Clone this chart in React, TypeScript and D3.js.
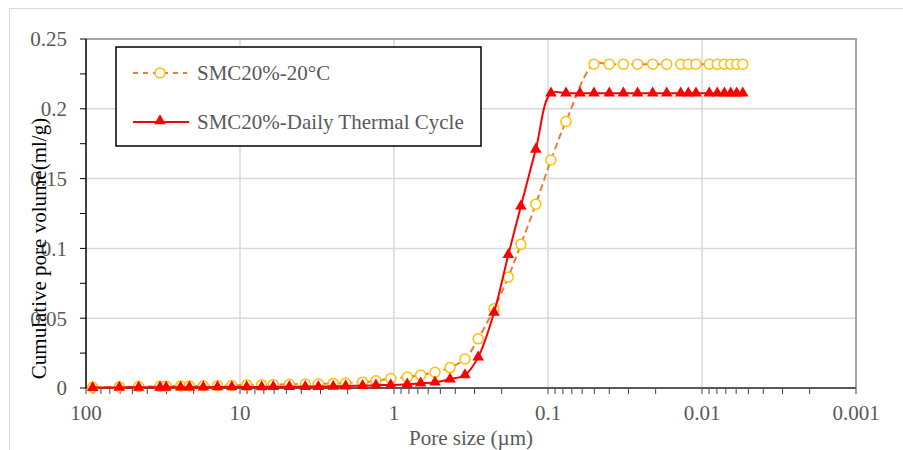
import React, { useEffect, useRef } from "react";
import * as d3 from "d3";

// pore size (µm) and cumulative pore volume (ml/g)
const poreSize20C = [
  90.5, 60.8, 45.5, 33.1, 30.2, 24.3, 21.3, 17.3, 14.0, 11.3, 9.05, 7.23, 6.08, 4.78, 3.77, 3.1,
  2.48, 2.06, 1.6, 1.31, 1.05, 0.82, 0.671, 0.542, 0.433, 0.346, 0.284, 0.224, 0.181, 0.15, 0.12,
  0.0957, 0.0764, 0.0503, 0.04, 0.0324, 0.0262, 0.0209, 0.01695, 0.01375, 0.01227, 0.01094,
  0.00897, 0.00796, 0.00716, 0.00651, 0.00595, 0.00544,
];
const volume20C = [
  0.0005, 0.0008, 0.001, 0.0012, 0.0013, 0.0014, 0.0015, 0.0016, 0.0017, 0.0018, 0.0022, 0.0024,
  0.0025, 0.0027, 0.0029, 0.003, 0.0033, 0.0036, 0.0042, 0.0052, 0.0068, 0.0078, 0.0093, 0.0113,
  0.0146, 0.0208, 0.0352, 0.0568, 0.0795, 0.1029, 0.1317, 0.1633, 0.1909, 0.232, 0.232, 0.232,
  0.232, 0.232, 0.232, 0.232, 0.232, 0.232, 0.232, 0.232, 0.232, 0.232, 0.232, 0.232,
];

const poreSizeDTC = [
  90.5, 60.8, 45.5, 33.1, 30.2, 24.3, 21.3, 17.3, 14.0, 11.3, 9.05, 7.23, 6.08, 4.78, 3.77, 3.1,
  2.48, 2.06, 1.6, 1.31, 1.05, 0.82, 0.671, 0.542, 0.433, 0.346, 0.284, 0.224, 0.181, 0.15, 0.12,
  0.0957, 0.0764, 0.062, 0.0503, 0.04, 0.0324, 0.0262, 0.0209, 0.01695, 0.01375, 0.01227,
  0.01094, 0.00897, 0.00796, 0.00716, 0.00651, 0.00595, 0.00544,
];
const volumeDTC = [
  0.0003, 0.0004, 0.0005, 0.0005, 0.0005, 0.0006, 0.0006, 0.0006, 0.0007, 0.0007, 0.0008, 0.0008,
  0.0009, 0.0009, 0.001, 0.001, 0.0012, 0.0014, 0.0017, 0.002, 0.0022, 0.0027, 0.0034, 0.0041,
  0.0063, 0.0093, 0.0221, 0.0541, 0.0955, 0.1302, 0.171, 0.2112, 0.2112, 0.2112, 0.2112, 0.2112,
  0.2112, 0.2112, 0.2112, 0.2112, 0.2112, 0.2112, 0.2112, 0.2112, 0.2112, 0.2112, 0.2112, 0.2112,
  0.2112,
];

const xTickValues = [100, 10, 1, 0.1, 0.01, 0.001];
const xTickLabels = ["100", "10", "1", "0.1", "0.01", "0.001"];
const yTickValues = [0, 0.05, 0.1, 0.15, 0.2, 0.25];
const yTickLabels = ["0", "0.05", "0.1", "0.15", "0.2", "0.25"];
const seriesNames = ["SMC20%-20°C", "SMC20%-Daily Thermal Cycle"];

const App = () => {
  const svgRef = useRef<SVGSVGElement | null>(null);

  useEffect(() => {
    const width = 903;
    const height = 450;
    const left = 86;
    const right = 856;
    const top = 39;
    const bottom = 388;
    const font = "'Liberation Serif', 'Times New Roman', serif";
    const fontSize = "21px";
    const textColor = "#595959";
    const gridColor = "#d9d9d9";

    const svg = d3.select(svgRef.current);
    svg.selectAll("*").remove();
    svg.attr("width", width).attr("height", height);

    svg.append("rect").attr("width", width).attr("height", height).attr("fill", "#fff");
    svg
      .append("rect")
      .attr("x", 9.5)
      .attr("y", 8.5)
      .attr("width", width)
      .attr("height", height)
      .attr("fill", "none")
      .attr("stroke", gridColor);

    const x = d3.scaleLog().domain([100, 0.001]).range([left, right]);
    const y = d3.scaleLinear().domain([0, 0.25]).range([bottom, top]);

    // grid
    svg
      .append("g")
      .selectAll("line")
      .data(yTickValues.slice(1))
      .join("line")
      .attr("x1", left)
      .attr("x2", right)
      .attr("y1", (d) => y(d))
      .attr("y2", (d) => y(d))
      .attr("stroke", gridColor)
      .attr("stroke-width", 1.5);
    svg
      .append("g")
      .selectAll("line")
      .data(xTickValues.slice(1, -1))
      .join("line")
      .attr("x1", (d) => x(d))
      .attr("x2", (d) => x(d))
      .attr("y1", top)
      .attr("y2", bottom)
      .attr("stroke", gridColor)
      .attr("stroke-width", 1.5);

    // plot area frame (top and right)
    svg
      .append("path")
      .attr("d", `M${left},${top}H${right}V${bottom}`)
      .attr("fill", "none")
      .attr("stroke", "#a6a6a6")
      .attr("stroke-width", 2);

    // x axis with minor ticks
    const minorX: number[] = [];
    for (let e = -3; e < 2; e++) {
      for (let m = 1; m < 10; m++) minorX.push(m * Math.pow(10, e));
    }
    minorX.push(100);
    svg
      .append("g")
      .selectAll("line")
      .data(minorX)
      .join("line")
      .attr("x1", (d) => x(d))
      .attr("x2", (d) => x(d))
      .attr("y1", bottom)
      .attr("y2", bottom + 6)
      .attr("stroke", "#404040")
      .attr("stroke-width", 1);
    svg
      .append("line")
      .attr("x1", left)
      .attr("x2", right)
      .attr("y1", bottom)
      .attr("y2", bottom)
      .attr("stroke", "#595959")
      .attr("stroke-width", 2);
    svg
      .append("g")
      .selectAll("text")
      .data(xTickValues)
      .join("text")
      .attr("x", (d) => x(d))
      .attr("y", 420)
      .attr("text-anchor", "middle")
      .style("font-family", font)
      .style("font-size", fontSize)
      .style("fill", textColor)
      .text((d, i) => xTickLabels[i]);

    // y axis with minor ticks
    svg
      .append("g")
      .selectAll("line")
      .data(d3.range(0, 11).map((i) => i * 0.025))
      .join("line")
      .attr("x1", left - 6)
      .attr("x2", left)
      .attr("y1", (d) => y(d))
      .attr("y2", (d) => y(d))
      .attr("stroke", "#000")
      .attr("stroke-width", 1);
    svg
      .append("line")
      .attr("x1", left)
      .attr("x2", left)
      .attr("y1", top)
      .attr("y2", bottom)
      .attr("stroke", "#000")
      .attr("stroke-width", 1.5);
    svg
      .append("g")
      .selectAll("text")
      .data(yTickValues)
      .join("text")
      .attr("x", 67)
      .attr("y", (d) => y(d))
      .attr("dy", "0.35em")
      .attr("text-anchor", "end")
      .style("font-family", font)
      .style("font-size", fontSize)
      .style("fill", textColor)
      .text((d, i) => yTickLabels[i]);

    // axis titles
    svg
      .append("text")
      .attr("x", (left + right) / 2)
      .attr("y", 445)
      .attr("text-anchor", "middle")
      .style("font-family", font)
      .style("font-size", fontSize)
      .style("fill", textColor)
      .text("Pore size (µm)");
    svg
      .append("text")
      .attr("transform", `translate(46,${(top + bottom) / 2 + 35}) rotate(-90)`)
      .attr("text-anchor", "middle")
      .style("font-family", font)
      .style("font-size", fontSize)
      .style("fill", "#000")
      .text("Cumulative pore volume(ml/g)");

    // series
    const data20C = poreSize20C.map((p, i) => ({ p, v: volume20C[i] }));
    const dataDTC = poreSizeDTC.map((p, i) => ({ p, v: volumeDTC[i] }));

    const line = d3
      .line<{ p: number; v: number }>()
      .x((d) => x(d.p))
      .y((d) => y(d.v))
      .curve(d3.curveCatmullRom);

    svg
      .append("path")
      .datum(data20C)
      .attr("d", line)
      .attr("fill", "none")
      .attr("stroke", "#ED7D31")
      .attr("stroke-width", 2)
      .attr("stroke-dasharray", "7,4");
    svg
      .append("g")
      .selectAll("circle")
      .data(data20C)
      .join("circle")
      .attr("cx", (d) => x(d.p))
      .attr("cy", (d) => y(d.v))
      .attr("r", 5)
      .attr("fill", "#fff")
      .attr("stroke", "#FFC000")
      .attr("stroke-width", 1.5);

    svg
      .append("path")
      .datum(dataDTC)
      .attr("d", line)
      .attr("fill", "none")
      .attr("stroke", "#FF0000")
      .attr("stroke-width", 2);
    const triangle = d3.symbol().type(d3.symbolTriangle).size(58);
    svg
      .append("g")
      .selectAll("path")
      .data(dataDTC)
      .join("path")
      .attr("transform", (d) => `translate(${x(d.p)},${y(d.v)})`)
      .attr("d", triangle)
      .attr("fill", "#FF0000");

    // legend
    const legend = svg.append("g");
    legend
      .append("rect")
      .attr("x", 116)
      .attr("y", 47)
      .attr("width", 365)
      .attr("height", 99)
      .attr("fill", "#fff")
      .attr("stroke", "#000")
      .attr("stroke-width", 1.5);
    legend
      .append("line")
      .attr("x1", 133)
      .attr("x2", 187)
      .attr("y1", 73)
      .attr("y2", 73)
      .attr("stroke", "#ED7D31")
      .attr("stroke-width", 2)
      .attr("stroke-dasharray", "5,5");
    legend
      .append("circle")
      .attr("cx", 160)
      .attr("cy", 73)
      .attr("r", 5)
      .attr("fill", "#fff")
      .attr("stroke", "#FFC000")
      .attr("stroke-width", 1.5);
    legend
      .append("line")
      .attr("x1", 133)
      .attr("x2", 189)
      .attr("y1", 122)
      .attr("y2", 122)
      .attr("stroke", "#FF0000")
      .attr("stroke-width", 2);
    legend
      .append("path")
      .attr("transform", "translate(160,121)")
      .attr("d", triangle)
      .attr("fill", "#FF0000");
    legend
      .selectAll("text")
      .data(seriesNames)
      .join("text")
      .attr("x", 197)
      .attr("y", (d, i) => 73 + i * 49)
      .attr("dy", "0.35em")
      .style("font-family", font)
      .style("font-size", fontSize)
      .style("fill", textColor)
      .text((d) => d);
  }, []);

  return <svg ref={svgRef} style={{ position: "absolute", left: 0, top: 0 }}></svg>;
};

export default App;
